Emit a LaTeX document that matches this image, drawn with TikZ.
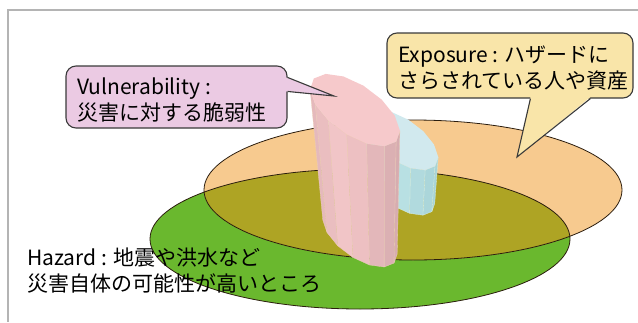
\documentclass[tikz,border=0pt]{standalone}
\usepackage{fontspec}
\setmainfont{Noto Sans CJK JP}
\usetikzlibrary{calc}

\definecolor{framegray}{HTML}{B4B4B4}
\definecolor{hazgreen}{HTML}{6AB82E}
\definecolor{exporange}{HTML}{F7CA8F}
\definecolor{overlapolive}{HTML}{AEA424}
\definecolor{rimcol}{HTML}{2B1D0E}
\definecolor{vulfill}{HTML}{EBCAE3}
\definecolor{expfill}{HTML}{F9E5A9}
\definecolor{bubbleline}{HTML}{3A3A3A}
\definecolor{pinkLight}{HTML}{F4C7C9}
\definecolor{pinkDark}{HTML}{C89EA2}
\definecolor{pinkTop}{HTML}{F6C9CB}
\definecolor{pinkEdge}{HTML}{EBCDB8}
\definecolor{blueLight}{HTML}{BEE4E7}
\definecolor{blueDark}{HTML}{9CCBCF}
\definecolor{blueTop}{HTML}{D1E9EE}
\definecolor{blueEdge}{HTML}{D6EDE0}

% point of a tilted polygonal "ellipse": name, centre x, centre y, a, b, angle
\newcommand\prSet[6]{%
  \coordinate (#1) at ({#2+#4*cos(#6)*cos(\prTh)-#5*sin(#6)*sin(\prTh)},
                       {#3+#4*cos(#6)*sin(\prTh)+#5*sin(#6)*cos(\prTh)});}

% faceted column: top ellipse (\prTx,\prTy,\prTa,\prTb), bottom (\prBx,\prBy,\prBa,\prBb)
\newcommand\drawprism{%
  \pgfmathsetmacro\prHw{sqrt((\prTa*cos(\prTh))^2+(\prTb*sin(\prTh))^2)}%
  \foreach \k in {0,...,13}{%
    \pgfmathsetmacro\prU{\k*360/14+\prPh}%
    \pgfmathsetmacro\prV{\prU+360/14}%
    \pgfmathsetmacro\prM{\prU+180/14}%
    \pgfmathtruncatemacro\prVis{(\prTa*sin(\prM)*cos(\prTh)+\prTb*cos(\prM)*sin(\prTh))>0 ? 1 : 0}%
    \ifnum\prVis=1
      \pgfmathtruncatemacro\prPct{100-65*abs((\prTa*cos(\prM)*cos(\prTh)-\prTb*sin(\prM)*sin(\prTh))/\prHw+0.3)/1.3}%
      \prSet{tu}{\prTx}{\prTy}{\prTa}{\prTb}{\prU}%
      \prSet{tv}{\prTx}{\prTy}{\prTa}{\prTb}{\prV}%
      \prSet{bu}{\prBx}{\prBy}{\prBa}{\prBb}{\prU}%
      \prSet{bv}{\prBx}{\prBy}{\prBa}{\prBb}{\prV}%
      \filldraw[fill=prLight!\prPct!prDark, draw=prEdge, line width=0.3pt, line join=round]
        (tu) -- (tv) -- (bv) -- (bu) -- cycle;
    \fi
  }%
  \pgfmathsetmacro\prEnd{\prPh+360}%
  \fill[prTop] plot[domain=\prPh:\prEnd, samples=15]
    ({\prTx+\prTa*cos(\x)*cos(\prTh)-\prTb*sin(\x)*sin(\prTh)},
     {\prTy+\prTa*cos(\x)*sin(\prTh)+\prTb*sin(\x)*cos(\prTh)}) -- cycle;
}

\tikzset{
  lbl/.style={anchor=base west, inner sep=0pt, font=\fontsize{21}{26}\selectfont},
  bubble/.style={draw=bubbleline, line width=1.1pt, rounded corners=10pt, inner sep=0pt},
  rim/.style={draw=rimcol, line width=0.8pt},
}

\begin{document}
\begin{tikzpicture}[x=1pt,y=-1pt]
\useasboundingbox (0,0) rectangle (638,322);

% frame
\draw[framegray, line width=1.4pt] (638,10) -- (8,10) -- (8,322);

% hazard and exposure areas
\coordinate (hazC) at (360,239);
\coordinate (expC) at (413,190);
\fill[hazgreen] (hazC) ellipse [x radius=210, y radius=70];
\fill[exporange] (expC) ellipse [x radius=209, y radius=70];
\begin{scope}
  \clip (hazC) ellipse [x radius=210, y radius=70];
  \fill[overlapolive] (expC) ellipse [x radius=209, y radius=70];
\end{scope}
\draw[rim] (hazC) ellipse [x radius=210, y radius=70];
\draw[rim] (expC) ellipse [x radius=209, y radius=70];

% exposure column (behind)
\def\prTh{35}\def\prPh{5}
\def\prTx{401}\def\prTy{140}\def\prTa{43}\def\prTb{21}
\def\prBx{401}\def\prBy{188}\def\prBa{39}\def\prBb{19}
\colorlet{prLight}{blueLight}\colorlet{prDark}{blueDark}
\colorlet{prTop}{blueTop}\colorlet{prEdge}{blueEdge}
\drawprism

% vulnerability column
\def\prTx{355}\def\prTy{110}\def\prTa{52}\def\prTb{25}
\def\prBx{360}\def\prBy{237}\def\prBa{43}\def\prBb{21}
\colorlet{prLight}{pinkLight}\colorlet{prDark}{pinkDark}
\colorlet{prTop}{pinkTop}\colorlet{prEdge}{pinkEdge}
\drawprism

% hazard label
\node[lbl] (haz1) at (27,265) {Hazard : 地震や洪水など};
\node[lbl] (haz2) at (27,291) {災害自体の可能性が高いところ};

% vulnerability callout
\node[bubble, fill=vulfill, minimum width=221pt, minimum height=62pt] (vulBox) at (176.5,97) {};
\coordinate (vulTip) at (334,96);
\fill[vulfill] ($(vulBox.north east)+(-1.5,12)$) -- (vulTip) -- ($(vulBox.north east)+(-1.5,26)$) -- cycle;
\draw[bubbleline, line width=1.1pt, line join=miter]
  ($(vulBox.north east)+(0,12)$) -- (vulTip) -- ($(vulBox.north east)+(0,26)$);
\node[lbl] (vul1) at (77,94) {Vulnerability :};
\node[lbl] (vul2) at (77,120) {災害に対する脆弱性};

% exposure callout
\node[bubble, fill=expfill, minimum width=246pt, minimum height=65pt] (expBox) at (510,65.5) {};
\coordinate (expTip) at (517,157);
\fill[expfill] ($(expBox.south west)+(144,-1.5)$) -- (expTip) -- ($(expBox.south west)+(204,-1.5)$) -- cycle;
\draw[bubbleline, line width=1.1pt, line join=miter]
  ($(expBox.south west)+(144,0)$) -- (expTip) -- ($(expBox.south west)+(204,0)$);
\node[lbl] (exp1) at (398,62) {Exposure : ハザードに};
\node[lbl] (exp2) at (398,88) {さらされている人や資産};
\end{tikzpicture}
\end{document}
